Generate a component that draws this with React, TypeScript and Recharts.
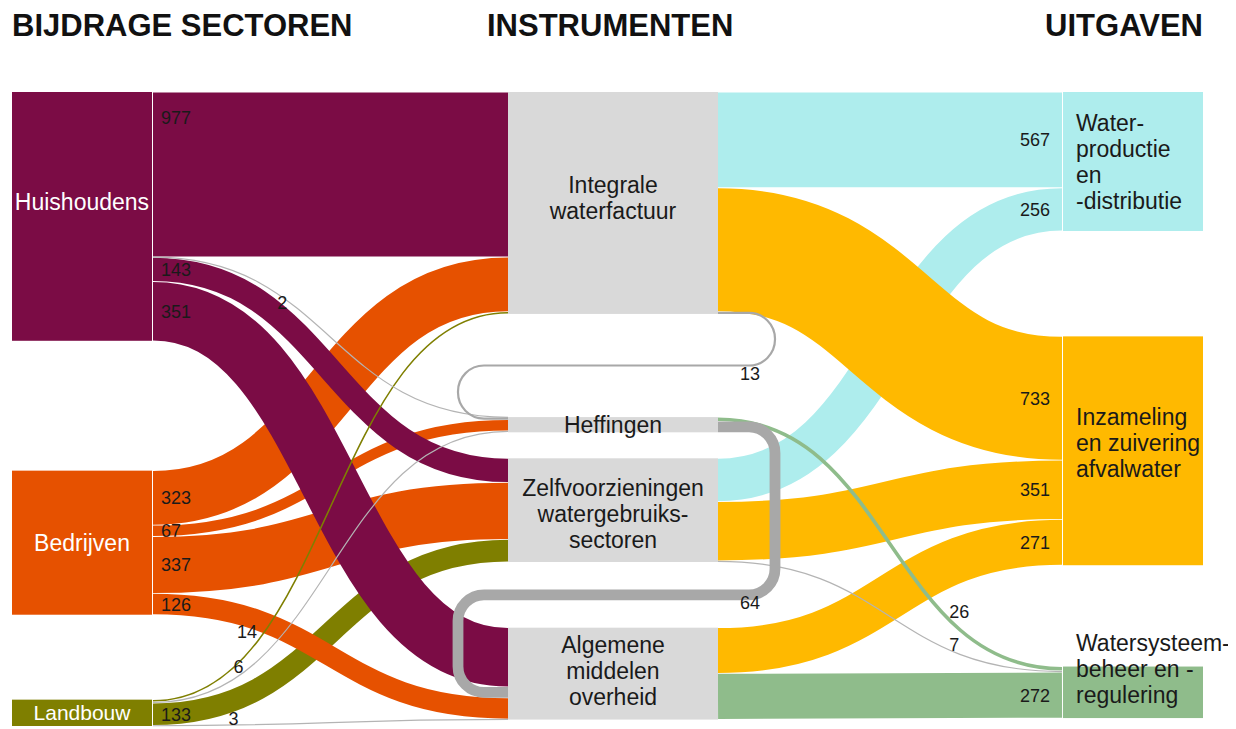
import React from 'react'
import { Sankey } from 'recharts'

const sectors = ['Huishoudens', 'Bedrijven', 'Landbouw']
const instruments = [
  'Integrale\nwaterfactuur',
  'Heffingen',
  'Zelfvoorzieningen\nwatergebruiks-\nsectoren',
  'Algemene\nmiddelen\noverheid',
]
const spending = [
  'Water-\nproductie\nen\n-distributie',
  'Inzameling\nen zuivering\nafvalwater',
  'Watersysteem-\nbeheer en -\nregulering',
]

// bijdrage per sector, in the order of `instruments`
const huishoudens = [977, 2, 143, 351]
const bedrijven = [323, 67, 337, 126]
const landbouw = [14, 6, 133, 3]
const sectorRows = [huishoudens, bedrijven, landbouw]

// uitgaven per instrument, in the order of `spending`
const waterfactuur = [567, 733, 0]
const heffingen = [0, 0, 26]
const zelfvoorziening = [256, 351, 7]
const algemeen = [0, 271, 272]
const instrumentRows = [waterfactuur, heffingen, zelfvoorziening, algemeen]

// transfers inside the instrument column (index into `instruments`)
const loopFrom = [0, 1]
const loopTo = [1, 3]
const loopValue = [13, 64]

// invisible spacer flows: they only keep the white bands open between the blocks
const gapFlows: [string, string, number][] = [
  ['gapL1', 'gapM1', 303],
  ['gapL1', 'gapM2', 81],
  ['gapL2', 'gapR1', 37],
  ['gapL2', 'gapR2', 158],
  ['gapM1', 'gapR1', 279],
  ['gapM2', 'gapR2', 57],
]

const nodeNames = [
  sectors[0], 'gapL1', sectors[1], 'gapL2', sectors[2],
  instruments[0], 'gapM1', instruments[1], instruments[2], 'gapM2', instruments[3],
  spending[0], 'gapR1', spending[1], 'gapR2', spending[2],
]
const id = (n: string) => nodeNames.indexOf(n)

type Link = { source: number; target: number; value: number; kind: string; loop?: number }
const big: Link[] = []
const small: Link[] = []
const add = (s: string, t: string, v: number) => {
  if (!v) return
  ;(v < 30 ? small : big).push({ source: id(s), target: id(t), value: v, kind: 'flow' })
}
// drawing order: olive, orange, purple, then the right hand side, thin lines on top
;[2, 1, 0].forEach((r) => sectorRows[r].forEach((v, c) => add(sectors[r], instruments[c], v)))
spending.forEach((sp, c) => instrumentRows.forEach((row, r) => add(instruments[r], sp, row[c])))

const links: Link[] = [
  ...gapFlows.map(([s, t, v]) => ({ source: id(s), target: id(t), value: v, kind: 'gap' })),
  ...loopValue.map((v, i) => ({
    source: id(instruments[loopFrom[i]]), target: id('gapR2'), value: v, kind: 'loopOut', loop: i,
  })),
  ...big,
  ...small,
  ...loopValue.map((v, i) => ({
    source: id('gapL1'), target: id(instruments[loopTo[i]]), value: v, kind: 'loopIn', loop: i,
  })),
]
const data = { nodes: nodeNames.map((name) => ({ name })), links }

const MARGIN = { top: 84, left: 4, right: 33, bottom: 3 }
const MID_PAD_L = 29.5
const MID_PAD_R = 40.5
const LOOP_OUT = 57
const LOOP_IN = 50
const FONT = '"Liberation Sans", Arial, sans-serif'
const INK = '#1a1a1a'
const MID_FILL = '#d9d9d9'
const LOOP_GREY = '#a8a8a8'

const fills: Record<string, string> = {
  [sectors[0]]: '#7b0c45',
  [sectors[1]]: '#e65100',
  [sectors[2]]: '#7f7f00',
  [spending[0]]: '#aeeded',
  [spending[1]]: '#ffb900',
  [spending[2]]: '#8fbc8b',
}
const labelShift: Record<string, number> = {
  [sectors[0]]: -14,
  [instruments[0]]: -5,
  [instruments[2]]: 4,
  [instruments[3]]: -3,
  [spending[1]]: -8,
  [spending[2]]: -23,
}

const isGap = (n: string) => n.startsWith('gap')
const boxes: Record<string, { y: number; h: number; depth: number }> = {}
const loopStart: Record<number, { x: number; y: number }> = {}
const loopOutBy: Record<string, { sinkY: number; width: number }> = {}
const keep = (n: any) => {
  boxes[n.name] = { y: n.y + MARGIN.top, h: n.dy, depth: n.depth }
}
const bez = (a: number, b: number, c: number, d: number, t: number) =>
  (1 - t) ** 3 * a + 3 * (1 - t) ** 2 * t * b + 3 * (1 - t) * t * t * c + t ** 3 * d

function ValueLabel({ x, y, anchor, children }: any) {
  return (
    <text x={x} y={y + 6.5} textAnchor={anchor} fontSize={18} fill={INK} fontFamily={FONT}>
      {children}
    </text>
  )
}

function renderLink(p: any) {
  const { sourceX, targetX, sourceY, targetY, linkWidth, payload } = p
  const s = payload.source
  const t = payload.target
  keep(s)
  keep(t)
  const sx = sourceX + (s.depth === 1 ? MID_PAD_R : 1)
  const tx = targetX - (t.depth === 1 ? MID_PAD_L : 1)
  if (payload.kind === 'gap') return <g />
  if (payload.kind === 'loopOut') {
    // the loop leaves from the bottom of the block's right side
    loopStart[payload.loop] = { x: sx, y: s.y + MARGIN.top + s.dy - linkWidth / 2 }
    loopOutBy[s.name] = { sinkY: t.y, width: linkWidth }
    return <g />
  }
  if (payload.kind === 'loopIn') {
    const st = loopStart[payload.loop]
    const tb = boxes[t.name]
    if (!st || !tb) return <g />
    let prevBottom = -Infinity
    Object.entries(boxes).forEach(([n, b]) => {
      if (!isGap(n) && b.depth === tb.depth && b.y < tb.y) prevBottom = Math.max(prevBottom, b.y + b.h)
    })
    const y1 = (prevBottom + tb.y) / 2
    const xr = st.x + LOOP_OUT
    const xl = tx - LOOP_IN
    const r1 = Math.min(26, (y1 - st.y) / 2)
    const r2 = Math.min(26, (targetY - y1) / 2)
    const d =
      `M${st.x},${st.y} H${xr - r1} A${r1},${r1} 0 0 1 ${xr},${st.y + r1} V${y1 - r1} ` +
      `A${r1},${r1} 0 0 1 ${xr - r1},${y1} H${xl + r2} A${r2},${r2} 0 0 0 ${xl},${y1 + r2} ` +
      `V${targetY - r2} A${r2},${r2} 0 0 0 ${xl + r2},${targetY} H${tx}`
    return (
      <g>
        <path d={d} fill="none" stroke={LOOP_GREY} strokeWidth={Math.max(linkWidth, 1.5)} />
        <ValueLabel x={xr - 25} y={y1 + 8} anchor="middle">{payload.value}</ValueLabel>
      </g>
    )
  }

  const v = payload.value
  const lo = loopOutBy[s.name]
  const sy = lo && t.y > lo.sinkY ? sourceY - lo.width : sourceY
  const thin = v < 10
  const color = thin ? '#b4b4b4' : s.depth === 0 ? fills[s.name] : fills[t.name]
  const c0 = sx + (tx - sx) * 0.5
  const c1 = tx - (tx - sx) * 0.5
  const d = `M${sx},${sy} C${c0},${sy} ${c1},${targetY} ${tx},${targetY}`
  let label
  if (v < 30) {
    const down = targetY > sy
    const tt = s.depth === 1 ? 0.7 : down ? 0.35 : 0.2 + v * 0.005
    const px = bez(sx, c0, c1, tx, tt)
    const py = bez(sy, sy, targetY, targetY, tt)
    if (s.depth === 1) {
      label = <ValueLabel x={px + 5} y={py - 3} anchor="start">{v}</ValueLabel>
    } else if (down) {
      label = <ValueLabel x={px - 2} y={py} anchor="end">{v}</ValueLabel>
    } else {
      // keep the label inside the picture when the line runs along the bottom
      label = <ValueLabel x={px - 8} y={Math.min(py, 710)} anchor="end">{v}</ValueLabel>
    }
  } else if (s.depth === 0) {
    const ly = linkWidth > 100 ? sy - linkWidth / 2 + 25 : sy
    label = <ValueLabel x={sx + 8} y={ly} anchor="start">{v}</ValueLabel>
  } else {
    label = <ValueLabel x={tx - 12} y={targetY} anchor="end">{v}</ValueLabel>
  }
  return (
    <g>
      <path
        d={d}
        fill="none"
        stroke={color}
        strokeWidth={thin ? 1.2 : Math.max(linkWidth - 0.8, 1.5)}
      />
      {label}
    </g>
  )
}

function renderNode(p: any) {
  const { x, y, width, height, payload } = p
  const name: string = payload.name
  if (isGap(name)) return <g />
  const depth = payload.depth
  const left = depth === 1 ? x - MID_PAD_L : x
  const w = depth === 1 ? width + MID_PAD_L + MID_PAD_R : width
  const lines = name.split('\n')
  const fs = name === 'Landbouw' ? 21 : 23
  const lh = 26
  const cy = y + height / 2 + (labelShift[name] || 0)
  const y0 = cy - ((lines.length - 1) * lh) / 2 + fs * 0.35
  const tx = depth === 2 ? left + 13 : left + w / 2
  return (
    <g>
      <rect x={left} y={y} width={w} height={height} fill={depth === 1 ? MID_FILL : fills[name]} />
      <text
        textAnchor={depth === 2 ? 'start' : 'middle'}
        fill={depth === 0 ? '#ffffff' : INK}
        fontSize={fs}
        fontFamily={FONT}
      >
        {lines.map((l, i) => (
          <tspan key={i} x={tx} y={y0 + i * lh}>
            {l}
          </tspan>
        ))}
      </text>
    </g>
  )
}

export default function App() {
  const title = { fontSize: 31, fontWeight: 700, fill: '#111', fontFamily: FONT }
  return (
    <div style={{ position: 'relative', width: 1228, height: 721, fontFamily: FONT }}>
      <Sankey
        width={1228}
        height={721}
        data={data}
        margin={MARGIN}
        nodeWidth={140}
        nodePadding={26}
        iterations={0}
        sort={false}
        link={renderLink}
        node={renderNode}
        isAnimationActive={false}
      />
      <svg width={1228} height={50} style={{ position: 'absolute', left: 0, top: 0, pointerEvents: 'none' }}>
        <text x={4} y={28} {...title}>BIJDRAGE SECTOREN</text>
        <text x={479} y={28} {...title}>INSTRUMENTEN</text>
        <text x={1195} y={28} textAnchor="end" {...title}>UITGAVEN</text>
      </svg>
    </div>
  )
}
